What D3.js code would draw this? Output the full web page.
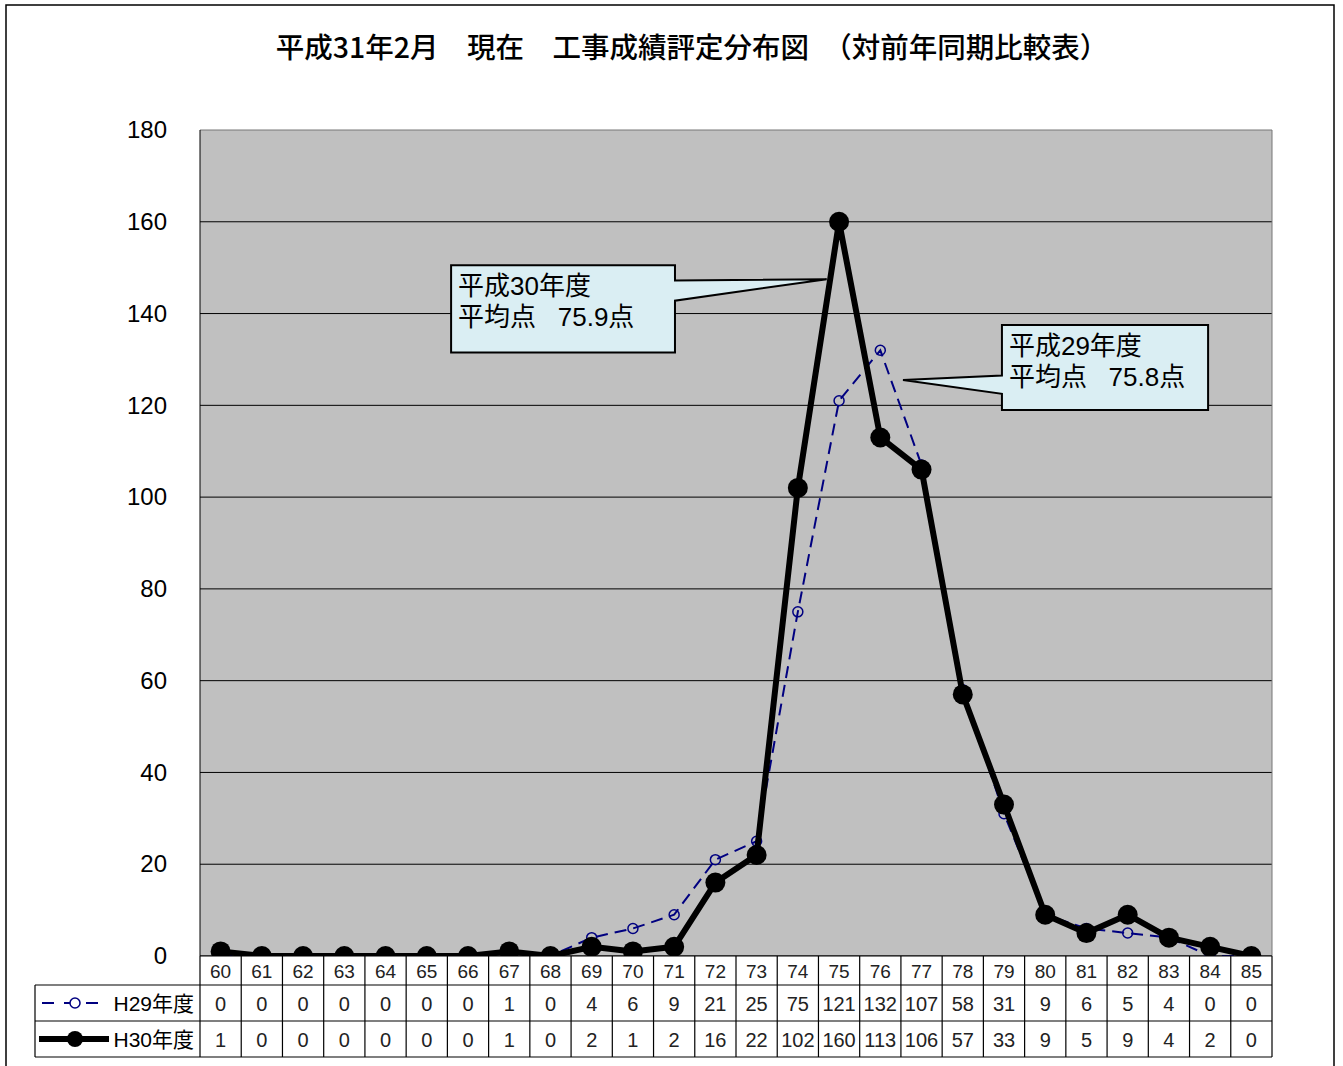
<!DOCTYPE html>
<html>
<head>
<meta charset="utf-8">
<script src="https://cdn.jsdelivr.net/npm/d3@7"></script>
<style>
  body { margin: 0; background: #fff; }
  svg { font-family: "Liberation Sans", "Noto Sans CJK JP", sans-serif; }
</style>
</head>
<body>
<svg id="chart" width="1343" height="1066"></svg>
<script>
// scores 60..85
var categories = ["60","61","62","63","64","65","66","67","68","69","70","71","72","73","74","75","76","77","78","79","80","81","82","83","84","85"];
var h29 = [0,0,0,0,0,0,0,1,0,4,6,9,21,25,75,121,132,107,58,31,9,6,5,4,0,0];
var h30 = [1,0,0,0,0,0,0,1,0,2,1,2,16,22,102,160,113,106,57,33,9,5,9,4,2,0];
var yTicks = [0,20,40,60,80,100,120,140,160,180];
var seriesNames = ["H29年度", "H30年度"];
var title = "平成31年2月\u3000現在\u3000工事成績評定分布図\u3000（対前年同期比較表）";

var svg = d3.select("#chart");
var margin = {left: 200, right: 71, top: 130, bottom: 110};
var width = 1343 - margin.left - margin.right,
    height = 1066 - margin.top - margin.bottom;

// outer frame
svg.append("rect")
    .attr("x", 6).attr("y", 5).attr("width", 1328).attr("height", 1070)
    .attr("fill", "none").attr("stroke", "#000").attr("stroke-width", 1.5);

svg.append("text")
    .attr("x", 692).attr("y", 58)
    .attr("text-anchor", "middle")
    .attr("font-size", "28.5px")
    .attr("font-family", "Noto Sans CJK JP, sans-serif")
    .attr("font-weight", 500)
    .text(title);

var x = d3.scaleBand().domain(categories).range([0, width]);
var y = d3.scaleLinear().domain([0, 180]).range([height, 0]);
var cx = function(i) { return x(categories[i]) + x.bandwidth() / 2; };

var g = svg.append("g")
    .attr("transform", "translate(" + margin.left + "," + margin.top + ")");

// plot background
g.append("rect")
    .attr("width", width).attr("height", height)
    .attr("fill", "#c0c0c0");

// grid lines
g.selectAll(".grid")
  .data(yTicks)
  .enter()
  .append("line")
    .attr("x1", 0).attr("x2", width)
    .attr("y1", function(d) { return y(d); })
    .attr("y2", function(d) { return y(d); })
    .attr("stroke", function(d) { return d == 180 ? "#777" : "#000"; })
    .attr("stroke-width", 1);

g.append("line")
    .attr("x1", 0).attr("x2", 0).attr("y1", 0).attr("y2", height)
    .attr("stroke", "#000");
g.append("line")
    .attr("x1", width).attr("x2", width).attr("y1", 0).attr("y2", height)
    .attr("stroke", "#777");

// y axis labels
var yAxis = g.append("g")
    .call(d3.axisLeft(y).tickValues(yTicks).tickSize(0).tickPadding(33));
yAxis.select(".domain").remove();
yAxis.selectAll("text")
    .attr("font-size", "24px")
    .attr("font-family", "Liberation Sans, sans-serif")
    .attr("fill", "#000");

// callouts (anchored to data coords, x in category steps)
var callouts = [
  {lines: ["平成30年度", "平均点\u00a0\u00a0 75.9点"], box: [6.09, 11.52, 150.5, 131.5], wedge: [147.2, 142.8], tip: [15.2, 147.5], side: "right"},
  {lines: ["平成29年度", "平均点\u00a0\u00a0 75.8点"], box: [19.45, 24.45, 137.5, 119], wedge: [126.5, 122.5], tip: [17.05, 125.5], side: "left"}
];
var xi = function(v) { return v * x.step(); };
callouts.forEach(function(c) {
  var x0 = xi(c.box[0]), x1 = xi(c.box[1]), y0 = y(c.box[2]), y1 = y(c.box[3]);
  var wy0 = y(c.wedge[0]), wy1 = y(c.wedge[1]);
  var tx = xi(c.tip[0]), ty = y(c.tip[1]);
  var p;
  if (c.side == "right") {
    p = [[x0,y0],[x1,y0],[x1,wy0],[tx,ty],[x1,wy1],[x1,y1],[x0,y1]];
  } else {
    p = [[x0,y0],[x1,y0],[x1,y1],[x0,y1],[x0,wy1],[tx,ty],[x0,wy0]];
  }
  g.append("path")
      .attr("d", d3.line()(p) + "Z")
      .attr("fill", "#daeef3")
      .attr("stroke", "#000")
      .attr("stroke-width", 2);
  c.lines.forEach(function(t, k) {
    g.append("text")
        .attr("x", x0 + 7)
        .attr("y", y0 + 30 + k * 31)
        .attr("font-size", "26px")
        .text(t);
  });
});

// H29 series: navy dashed with open circles
var line = d3.line()
    .x(function(d, i) { return cx(i); })
    .y(function(d) { return y(d); });

g.append("path")
    .datum(h29)
    .attr("d", line)
    .attr("fill", "none")
    .attr("stroke", "#000080")
    .attr("stroke-width", 2)
    .attr("stroke-dasharray", "12,7");

g.selectAll(".m29")
  .data(h29)
  .enter()
  .append("circle")
    .attr("cx", function(d, i) { return cx(i); })
    .attr("cy", function(d) { return y(d); })
    .attr("r", 5)
    .attr("fill", "none")
    .attr("stroke", "#000080")
    .attr("stroke-width", 1.5);

// H30 series: thick black with filled circles
g.append("path")
    .datum(h30)
    .attr("d", line)
    .attr("fill", "none")
    .attr("stroke", "#000")
    .attr("stroke-width", 6)
    .attr("stroke-linejoin", "round");

g.selectAll(".m30")
  .data(h30)
  .enter()
  .append("circle")
    .attr("cx", function(d, i) { return cx(i); })
    .attr("cy", function(d) { return y(d); })
    .attr("r", 10)
    .attr("fill", "#000");

// data table
var tableLeft = 35 - margin.left;
var rowTop = [height, height + 29, height + 65, height + 101];
var tbl = g.append("g");

tbl.append("rect")
    .attr("x", 0).attr("y", rowTop[0]).attr("width", width).attr("height", rowTop[1] - rowTop[0])
    .attr("fill", "#fff");
tbl.append("rect")
    .attr("x", tableLeft).attr("y", rowTop[1]).attr("width", width - tableLeft).attr("height", rowTop[3] - rowTop[1])
    .attr("fill", "#fff");

// horizontal lines
[[0, rowTop[0]], [tableLeft, rowTop[1]], [tableLeft, rowTop[2]], [tableLeft, rowTop[3]]].forEach(function(r) {
  tbl.append("line")
      .attr("x1", r[0]).attr("x2", width).attr("y1", r[1]).attr("y2", r[1])
      .attr("stroke", "#000").attr("stroke-width", 1.2);
});
// vertical lines
tbl.selectAll(".vl")
  .data(d3.range(categories.length + 1))
  .enter()
  .append("line")
    .attr("x1", function(i) { return i * x.step(); })
    .attr("x2", function(i) { return i * x.step(); })
    .attr("y1", rowTop[0]).attr("y2", rowTop[3])
    .attr("stroke", "#000").attr("stroke-width", 1.2);
tbl.append("line")
    .attr("x1", tableLeft).attr("x2", tableLeft).attr("y1", rowTop[1]).attr("y2", rowTop[3])
    .attr("stroke", "#000").attr("stroke-width", 1.2);

// category labels
tbl.selectAll(".cat")
  .data(categories)
  .enter()
  .append("text")
    .attr("x", function(d, i) { return cx(i); })
    .attr("y", rowTop[0] + 22)
    .attr("text-anchor", "middle")
    .attr("font-size", "19px")
    .attr("fill", "#222")
    .text(function(d) { return d; });

[h29, h30].forEach(function(s, k) {
  tbl.selectAll(".v" + k)
    .data(s)
    .enter()
    .append("text")
      .attr("x", function(d, i) { return cx(i); })
      .attr("y", rowTop[k + 1] + 26)
      .attr("text-anchor", "middle")
      .attr("font-size", "20px")
      .attr("fill", "#222")
      .text(function(d) { return d; });
  tbl.append("text")
      .attr("x", -6)
      .attr("y", rowTop[k + 1] + 26)
      .attr("text-anchor", "end")
      .attr("font-size", "21px")
      .text(seriesNames[k]);
});

// legend keys in table
var ly29 = rowTop[1] + 18, ly30 = rowTop[2] + 18;
tbl.append("line")
    .attr("x1", tableLeft + 7).attr("x2", tableLeft + 72).attr("y1", ly29).attr("y2", ly29)
    .attr("stroke", "#000080").attr("stroke-width", 2).attr("stroke-dasharray", "12,10");
tbl.append("circle")
    .attr("cx", tableLeft + 40).attr("cy", ly29).attr("r", 5)
    .attr("fill", "#fff").attr("stroke", "#000080").attr("stroke-width", 1.5);
tbl.append("line")
    .attr("x1", tableLeft + 4).attr("x2", tableLeft + 74).attr("y1", ly30).attr("y2", ly30)
    .attr("stroke", "#000").attr("stroke-width", 6);
tbl.append("circle")
    .attr("cx", tableLeft + 40).attr("cy", ly30).attr("r", 8)
    .attr("fill", "#000");
</script>
</body>
</html>
